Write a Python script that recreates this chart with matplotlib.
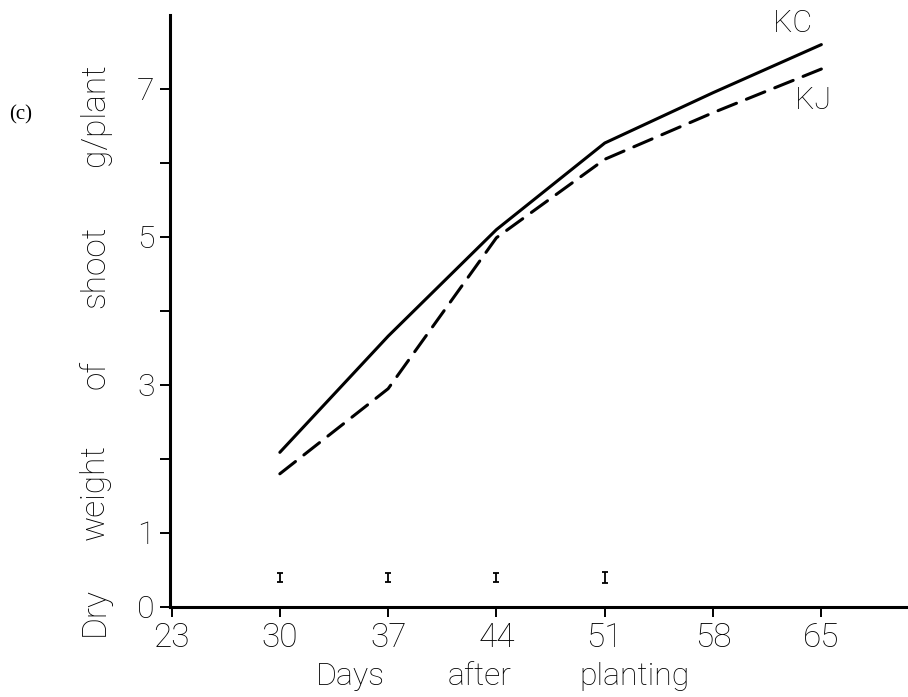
import numpy as np
import matplotlib
matplotlib.use("Agg")
import matplotlib.pyplot as plt

# %% Data

days = [30, 37, 44, 51, 58, 65]
kc = [2.09, 3.66, 5.10, 6.27, 6.95, 7.60]
kj = [1.80, 2.95, 4.99, 6.05, 6.68, 7.27]

# small LSD bars near the x axis
lsd_days = [30, 37, 44, 51]
lsd_y = [0.40, 0.40, 0.40, 0.40]
lsd_err = [0.06, 0.06, 0.06, 0.07]

xticks = [23, 30, 37, 44, 51, 58, 65]
yticks = [0, 1, 3, 5, 7]
yminor = [2, 4, 6]

# axis titles, one word at a time (the original is widely letter-spaced)
ylab_words = ["Dry", "weight", "of", "shoot", "g/plant"]
ylab_pos = [611, 492, 375, 267, 115]      # pixel centres from top
xlab_words = ["Days", "after", "planting"]
xlab_pos = [350, 480, 635]                # pixel centres from left

# %% Plot

fam = ['Roboto', 'DejaVu Sans']
W, H = 908, 697

fig = plt.figure(figsize=(9.08, 6.97), dpi=100)
ax = fig.add_axes([170/W, 1 - 607/H, 738/W, 592/H])

ax.plot(days, kc, color='black', lw=2.2, solid_capstyle='round')
ax.plot(days, kj, color='black', lw=2.2, dashes=(6.5, 3.5), dash_capstyle='round')
ax.errorbar(lsd_days, lsd_y, yerr=lsd_err, fmt='none', ecolor='black',
            elinewidth=1.3, capsize=2, capthick=1.3)

ax.set_xlim(22.9, 70.6)
ax.set_ylim(0, 8)

for s in ['top', 'right']:
    ax.spines[s].set_visible(False)
for s in ['left', 'bottom']:
    ax.spines[s].set_linewidth(2.2)

ax.set_xticks(xticks)
ax.set_xticklabels([str(t) for t in xticks], family=fam, fontsize=24, fontweight='light')
ax.set_yticks(yticks)
ax.set_yticklabels([str(t) for t in yticks], family=fam, fontsize=23, fontweight='light')
ax.set_yticks(yminor, minor=True)
ax.tick_params(axis='both', which='both', direction='out', length=7, width=1.4)
ax.tick_params(axis='x', pad=4)
ax.tick_params(axis='y', pad=4)

ax.text(61.9, 7.88, "KC", fontsize=22, family=fam, fontweight='light', va='center', ha='left')
ax.text(63.3, 6.85, "KJ", fontsize=22, family=fam, fontweight='light', va='center', ha='left')

for w, p in zip(ylab_words, ylab_pos):
    fig.text(104/W, 1 - p/H, w, rotation=90, rotation_mode='anchor',
             ha='center', va='baseline', fontsize=24, family=fam, fontweight='light')
for w, p in zip(xlab_words, xlab_pos):
    fig.text(p/W, 1 - 685/H, w, ha='center', va='baseline',
             fontsize=23, family=fam, fontweight='light')

fig.text(9/W, 1 - 115/H, "(c)", ha='left', va='center', fontsize=15,
         family=['Liberation Serif', 'DejaVu Serif'])

fig.savefig("out.png", dpi=100)
